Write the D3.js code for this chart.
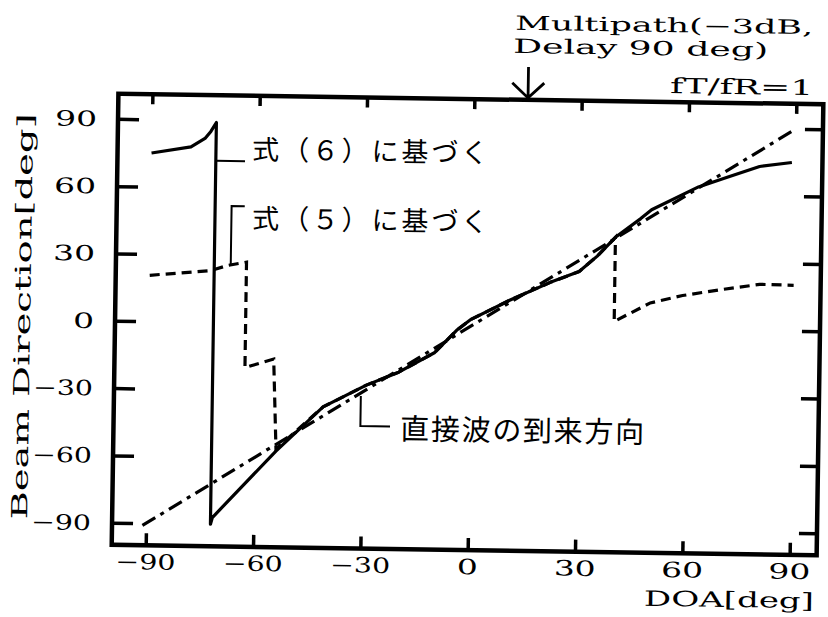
<!DOCTYPE html>
<html>
<head>
<meta charset="utf-8">
<script src="https://cdn.jsdelivr.net/npm/d3@7"></script>
<style>
  html, body { margin: 0; padding: 0; background: #fff; }
  svg { display: block; }
</style>
</head>
<body>
<svg id="chart" width="828" height="617"></svg>
<script>
// Beam direction versus direction of arrival (DOA), both in degrees.
const tickValues = [-90, -60, -30, 0, 30, 60, 90];
const tickLabels = ["−90", "−60", "−30", "0", "30", "60", "90"];

// Beam direction from Eq. (6)
const eq6Doa  = [-90, -79, -75, -73.5, -72, -72, -71.5, -54, -41, -29, -20, -10, -4, 0, 11, 22, 30, 35, 40, 47, 50, 63, 71, 80, 89];
const eq6Beam = [ 75,  78,  82,  85,   89, -90, -87,  -57, -37, -27, -21, -12, -2, 3, 12, 20, 25, 32, 40.5, 49, 53, 63.5, 68, 73, 75];

// Beam direction from Eq. (5)
const eq5Doa  = [-90, -73, -68, -63, -63, -55, -54, -41, -29, -20, -10, -4, 0, 11, 22, 30, 35, 40, 40, 50, 59, 69, 80.5, 90];
const eq5Beam = [20.5, 23, 25.5, 27, -20, -16, -56, -37, -27, -21, -12, -2, 3, 12, 20, 25, 32, 40.5, 3, 11.5, 15, 17.7, 20.5, 20.3];

// Arrival direction of the direct wave (beam = DOA)
const directDoa  = [-91, 90];
const directBeam = [-91, 90];

// Direction of the multipath wave
const multipathDoa = 15;

const W = 828, H = 617;
const frame = { left: 115, right: 820, top: 99, bottom: 550 };

const x = d3.scaleLinear().domain([-90, 90]).range([149, 793]);
const y = d3.scaleLinear().domain([-90, 90]).range([528, 124]);

const svg = d3.select("#chart");
svg.append("rect").attr("width", W).attr("height", H).attr("fill", "#fff");

// The printed figure sits slightly tilted on the page.
const g = svg.append("g").attr("transform", "rotate(0.85 466 326)");

const serif = "'DejaVu Serif', 'Liberation Serif', serif";
const gothic = "'Noto Sans CJK JP', 'Noto Sans CJK SC', sans-serif";

// Stretched serif text, as in the printed figure
function wideText(parent, str, x0, baseline, len, size) {
  return parent.append("text")
    .attr("x", x0).attr("y", baseline)
    .attr("font-family", serif).attr("font-size", size)
    .attr("textLength", len).attr("lengthAdjust", "spacingAndGlyphs")
    .attr("fill", "#000")
    .text(str);
}
const labelWidth = s => [...s].reduce((w, c) => w + (c === "−" ? 18 : 21), 0);

// Frame
g.append("rect")
  .attr("x", frame.left).attr("y", frame.top)
  .attr("width", frame.right - frame.left).attr("height", frame.bottom - frame.top)
  .attr("fill", "none").attr("stroke", "#000").attr("stroke-width", 4.5);

// Inward ticks on all four sides
const styleTicks = sel => {
  sel.select(".domain").remove();
  sel.selectAll("line").attr("stroke", "#000").attr("stroke-width", 3.5);
};
g.append("g").attr("transform", `translate(${frame.left},0)`)
  .call(d3.axisLeft(y).tickValues(tickValues).tickSize(-21).tickFormat(""))
  .call(styleTicks);
g.append("g").attr("transform", `translate(${frame.right},0)`)
  .call(d3.axisRight(y).tickValues(tickValues).tickSize(-18).tickFormat(""))
  .call(styleTicks);
g.append("g").attr("transform", `translate(0,${frame.bottom})`)
  .call(d3.axisBottom(x).tickValues(tickValues).tickSize(-12).tickFormat(""))
  .call(styleTicks);
g.append("g").attr("transform", `translate(0,${frame.top})`)
  .call(d3.axisTop(x).tickValues(tickValues).tickSize(-10).tickFormat(""))
  .call(styleTicks);

// Tick labels
tickValues.forEach((v, i) => {
  const s = tickLabels[i];
  const w = labelWidth(s);
  wideText(g, s, 94 - w, y(v) + 7.5, w, 21);
  wideText(g, s, x(v) - w / 2, 574, w, 21);
});

// Axis titles
g.append("text")
  .attr("transform", "translate(30,323) rotate(-90)")
  .attr("x", -203).attr("y", 0)
  .attr("font-family", serif).attr("font-size", 22)
  .attr("textLength", 406).attr("lengthAdjust", "spacingAndGlyphs")
  .text("Beam Direction[deg]");
wideText(g, "DOA[deg]", 648, 603, 170, 21);

// Curves
const line = d3.line().x(d => x(d[0])).y(d => y(d[1]));
const pairs = (xs, ys) => xs.map((v, i) => [v, ys[i]]);

g.append("path").datum(pairs(directDoa, directBeam))
  .attr("d", line).attr("fill", "none").attr("stroke", "#000")
  .attr("stroke-width", 3.2).attr("stroke-dasharray", "15,6,4,6");

g.append("path").datum(pairs(eq5Doa, eq5Beam))
  .attr("d", line).attr("fill", "none").attr("stroke", "#000")
  .attr("stroke-width", 3.2).attr("stroke-dasharray", "10,6")
  .attr("stroke-linejoin", "miter");

g.append("path").datum(pairs(eq6Doa, eq6Beam))
  .attr("d", line).attr("fill", "none").attr("stroke", "#000")
  .attr("stroke-width", 3.2).attr("stroke-linejoin", "round");

// Leader lines and curve labels
const leader = d => g.append("path").attr("d", d).attr("fill", "none")
  .attr("stroke", "#000").attr("stroke-width", 2);

leader(`M${x(-72)},164.5 H242.6`);
g.append("text").attr("x", 249.6).attr("y", 162.4)
  .attr("font-family", gothic).attr("font-size", 27)
  .attr("textLength", 236).attr("lengthAdjust", "spacing")
  .text("式（６）に基づく");

const eq5At = d3.scaleLinear().domain([-68, -63]).range([25.5, 27]);
leader(`M${x(-67.4)},${y(eq5At(-67.4))} V209.5 H243`);
g.append("text").attr("x", 250.6).attr("y", 231.4)
  .attr("font-family", gothic).attr("font-size", 27)
  .attr("textLength", 236).attr("lengthAdjust", "spacing")
  .text("式（５）に基づく");

leader(`M${x(-30.5)},${y(-30.5) + 3} V427.5 H391.5`);
g.append("text").attr("x", 401.7).attr("y", 440.2)
  .attr("font-family", gothic).attr("font-size", 29)
  .attr("textLength", 244).attr("lengthAdjust", "spacing")
  .text("直接波の到来方向");

// Multipath annotation and arrow
wideText(g, "Multipath(−3dB,", 510.7, 29, 298, 19.5);
wideText(g, "Delay 90 deg)", 509, 52.2, 255, 19.5);
wideText(g, "fT/fR=1", 666.6, 90, 143, 21);

const ax = x(multipathDoa);
g.append("path")
  .attr("d", `M${ax},66 V${frame.top - 2} M${ax - 16},${frame.top - 17} L${ax},${frame.top - 2} L${ax + 16},${frame.top - 17}`)
  .attr("fill", "none").attr("stroke", "#000").attr("stroke-width", 2.8);
</script>
</body>
</html>
